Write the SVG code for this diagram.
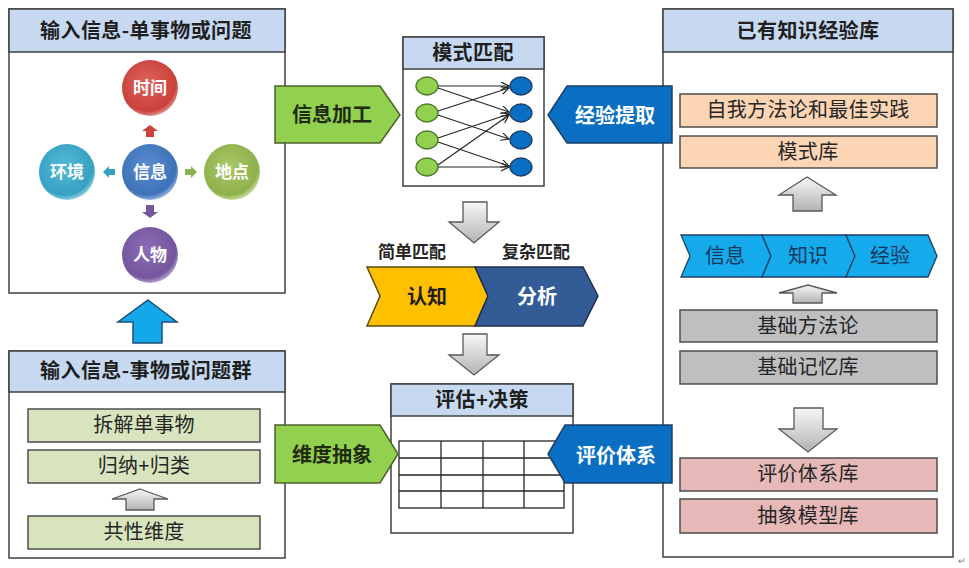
<svg xmlns="http://www.w3.org/2000/svg" width="969" height="568" viewBox="0 0 969 568">
<defs>
<style>
.panel{fill:#ffffff;stroke:#404040;stroke-width:1.5}
.hdr{fill:#c6d9f1;stroke:#404040;stroke-width:1.5}
.t{font-family:"Noto Sans CJK SC","Noto Sans",sans-serif;text-anchor:middle;dominant-baseline:central;transform:translateY(-1.5px)}
.title{font-size:20px;font-weight:bold;fill:#1f1f1f;letter-spacing:0.4px}
.lbl{font-size:20px;fill:#262626;letter-spacing:0.3px}
.bold{font-weight:bold}
.wt{fill:#ffffff}
.peach{fill:#fcd5b5;stroke:#4d4d4d;stroke-width:1.5}
.gray{fill:#bfbfbf;stroke:#4d4d4d;stroke-width:1.5}
.pink{fill:#e6b9b8;stroke:#4d4d4d;stroke-width:1.5}
.olive{fill:#d7e4bd;stroke:#4d4d4d;stroke-width:1.5}
.garrow{fill:url(#gg);stroke:#595959;stroke-width:1.3}
.gpent{fill:#92d050;stroke:#4f6228;stroke-width:1.5}
.bpent{fill:#0a6fc2;stroke:#1f3f66;stroke-width:1.5}
.chev{fill:#15aaeb;stroke:#1f3f66;stroke-width:1.3}
.link{stroke:#262626;stroke-width:1.2;fill:none;marker-end:url(#ah)}
.grid{stroke:#262626;stroke-width:1.3;fill:#ffffff}
.gel{fill:#92d050;stroke:#4f7a28;stroke-width:1.3}
.bel{fill:#0a6fc2;stroke:#1f3f66;stroke-width:1.3}
</style>
<linearGradient id="gg" x1="0" y1="0" x2="0" y2="1">
<stop offset="0" stop-color="#f7f7f7"/>
<stop offset="1" stop-color="#b3b3b3"/>
</linearGradient>
<radialGradient id="cr" cx="0.45" cy="0.4" r="0.6"><stop offset="0" stop-color="#e0625c"/><stop offset="0.85" stop-color="#c9413b"/><stop offset="1" stop-color="#dd8a86"/></radialGradient>
<radialGradient id="cb" cx="0.45" cy="0.4" r="0.6"><stop offset="0" stop-color="#5a8ed0"/><stop offset="0.85" stop-color="#3e72b8"/><stop offset="1" stop-color="#8eb0dc"/></radialGradient>
<radialGradient id="ct" cx="0.45" cy="0.4" r="0.6"><stop offset="0" stop-color="#55b9d6"/><stop offset="0.85" stop-color="#36a1c2"/><stop offset="1" stop-color="#8fcde0"/></radialGradient>
<radialGradient id="cg" cx="0.45" cy="0.4" r="0.6"><stop offset="0" stop-color="#a8c866"/><stop offset="0.85" stop-color="#8fb14c"/><stop offset="1" stop-color="#c3d99a"/></radialGradient>
<radialGradient id="cp" cx="0.45" cy="0.4" r="0.6"><stop offset="0" stop-color="#8d6db5"/><stop offset="0.85" stop-color="#74569e"/><stop offset="1" stop-color="#b3a0cc"/></radialGradient>
<marker id="ah" markerWidth="10" markerHeight="10" refX="8" refY="4" orient="auto" markerUnits="userSpaceOnUse">
<path d="M0,0 L8,4 L0,8" fill="none" stroke="#262626" stroke-width="1.2"/>
</marker>
</defs>
<rect width="969" height="568" fill="#ffffff"/>

<!-- Top-left panel -->
<g id="panel-single">
<rect class="panel" x="9" y="9" width="276" height="284"/>
<rect class="hdr" x="9" y="9" width="276" height="43"/>
<text class="t title" x="146" y="31">输入信息-单事物或问题</text>
<g id="c-time"><circle cx="150" cy="88" r="28" fill="url(#cr)"/><text class="t bold wt" x="150" y="88" font-size="17">时间</text></g>
<g id="c-info"><circle cx="150" cy="172" r="28" fill="url(#cb)"/><text class="t bold wt" x="150" y="172" font-size="17">信息</text></g>
<g id="c-env"><circle cx="67" cy="172" r="28" fill="url(#ct)"/><text class="t bold wt" x="67" y="172" font-size="17">环境</text></g>
<g id="c-place"><circle cx="232" cy="172" r="28" fill="url(#cg)"/><text class="t bold wt" x="232" y="172" font-size="17">地点</text></g>
<g id="c-person"><circle cx="150" cy="255" r="28" fill="url(#cp)"/><text class="t bold wt" x="150" y="255" font-size="17">人物</text></g>
<polygon points="150,125 158,131 154,131 154,137 146,137 146,131 142,131" fill="#c9413b"/>
<polygon points="103,172 109,166 109,169 115,169 115,175 109,175 109,178" fill="#36a1c2"/>
<polygon points="197,172 191,166 191,169 185,169 185,175 191,175 191,178" fill="#8fb14c"/>
<polygon points="150,218 158,212 154,212 154,205 146,205 146,212 142,212" fill="#74569e"/>
</g>

<!-- Bottom-left panel -->
<g id="panel-group">
<rect class="panel" x="9" y="351" width="276" height="207"/>
<rect class="hdr" x="9" y="351" width="276" height="41"/>
<text class="t title" x="146" y="371">输入信息-事物或问题群</text>
<g id="n-split"><rect class="olive" x="28" y="409" width="232" height="33"/><text class="t lbl" x="144" y="425">拆解单事物</text></g>
<g id="n-induce"><rect class="olive" x="28" y="450" width="232" height="33"/><text class="t lbl" x="144" y="466">归纳+归类</text></g>
<polygon class="garrow" points="140,489 168,499 154,499 154,510 126,510 126,499 112,499"/>
<g id="n-common"><rect class="olive" x="28" y="516" width="232" height="33"/><text class="t lbl" x="144" y="532">共性维度</text></g>
</g>

<!-- Blue up arrow between left panels -->
<g id="arrow-up-blue">
<polygon points="148,300 177,322 162,322 162,343 133,343 133,322 118,322" fill="#12a8ea" stroke="#1f4e79" stroke-width="1.5"/>
</g>

<!-- Pattern matching box -->
<g id="n-pattern">
<rect class="panel" x="403" y="37" width="141" height="149"/>
<rect class="hdr" x="403" y="37" width="141" height="32"/>
<text class="t title" x="473" y="53">模式匹配</text>
<ellipse class="gel" cx="427" cy="86" rx="11" ry="9"/>
<ellipse class="gel" cx="427" cy="113" rx="11" ry="9"/>
<ellipse class="gel" cx="427" cy="140" rx="11" ry="9"/>
<ellipse class="gel" cx="427" cy="167" rx="11" ry="9"/>
<ellipse class="bel" cx="521" cy="86" rx="11" ry="9"/>
<ellipse class="bel" cx="521" cy="113" rx="11" ry="9"/>
<ellipse class="bel" cx="521" cy="140" rx="11" ry="9"/>
<ellipse class="bel" cx="521" cy="167" rx="11" ry="9"/>
</g>
<g id="pattern-links">
<line class="link" x1="438" y1="86" x2="509" y2="86"/>
<line class="link" x1="438" y1="88" x2="509" y2="112"/>
<line class="link" x1="438" y1="111" x2="509" y2="88"/>
<line class="link" x1="438" y1="115" x2="509" y2="139"/>
<line class="link" x1="438" y1="138" x2="509" y2="114"/>
<line class="link" x1="438" y1="142" x2="509" y2="166"/>
<line class="link" x1="438" y1="165" x2="509" y2="115"/>
<line class="link" x1="438" y1="167" x2="509" y2="167"/>
</g>

<!-- Right panel -->
<g id="panel-knowledge">
<rect class="panel" x="663" y="9" width="290" height="548"/>
<rect class="hdr" x="663" y="9" width="290" height="43"/>
<text class="t title" x="808" y="31">已有知识经验库</text>
<g id="n-self"><rect class="peach" x="680" y="94" width="257" height="33"/><text class="t lbl" x="808" y="110">自我方法论和最佳实践</text></g>
<g id="n-patternlib"><rect class="peach" x="680" y="136" width="257" height="32"/><text class="t lbl" x="808" y="152">模式库</text></g>
<polygon class="garrow" points="807,177 836,195 822,195 822,211 793,211 793,195 779,195"/>
<g id="n-chev-info"><polygon class="chev" points="681,235 762,235 771,256 762,277 681,277 690,256"/><text class="t" x="725" y="256" font-size="20" fill="#17375e">信息</text></g>
<g id="n-chev-know"><polygon class="chev" points="762,235 846,235 855,256 846,277 762,277 771,256"/><text class="t" x="808" y="256" font-size="20" fill="#17375e">知识</text></g>
<g id="n-chev-exp"><polygon class="chev" points="846,235 928,235 937,256 928,277 846,277 855,256"/><text class="t" x="890" y="256" font-size="20" fill="#17375e">经验</text></g>
<polygon class="garrow" points="808,285 837,293 822,293 822,303 793,303 793,293 779,293"/>
<g id="n-basemethod"><rect class="gray" x="680" y="310" width="257" height="32"/><text class="t lbl" x="808" y="326">基础方法论</text></g>
<g id="n-basemem"><rect class="gray" x="680" y="351" width="257" height="33"/><text class="t lbl" x="808" y="367">基础记忆库</text></g>
<polygon class="garrow" points="794,408 823,408 823,429 837,429 808,452 779,429 794,429"/>
<g id="n-evallib"><rect class="pink" x="680" y="458" width="257" height="33"/><text class="t lbl" x="808" y="474">评价体系库</text></g>
<g id="n-abslib"><rect class="pink" x="680" y="499" width="257" height="34"/><text class="t lbl" x="808" y="516">抽象模型库</text></g>
</g>

<!-- Center arrows and chevron bar -->
<g id="connectors">
<polygon class="garrow" points="463,202 487,202 487,222 499,222 474,243 449,222 463,222"/>
<polygon class="garrow" points="463,334 487,334 487,355 499,355 474,375 449,355 463,355"/>
</g>
<text class="t bold" x="412" y="252" font-size="17" fill="#262626">简单匹配</text>
<text class="t bold" x="536" y="252" font-size="17" fill="#262626">复杂匹配</text>
<g id="n-cognize"><polygon points="367,267 475,267 488,296 475,326 367,326 380,296" fill="#ffc000" stroke="#5a4a10" stroke-width="1.5"/><text class="t bold" x="427" y="297" font-size="20" fill="#1f1f1f">认知</text></g>
<g id="n-analyze"><polygon points="475,267 583,267 598,296 583,326 475,326 488,296" fill="#335c96" stroke="#1f2f4f" stroke-width="1.5"/><text class="t bold wt" x="537" y="297" font-size="20">分析</text></g>

<!-- Evaluation box -->
<g id="n-eval">
<rect class="panel" x="391" y="384" width="182" height="149"/>
<rect class="hdr" x="391" y="384" width="182" height="32"/>
<text class="t title" x="482" y="400">评估+决策</text>
<rect class="grid" x="399" y="441" width="165" height="67"/>
<path d="M441,441V508M483,441V508M524,441V508M399,458H564M399,475H564M399,491H564" stroke="#262626" stroke-width="1.3" fill="none"/>
</g>

<!-- Pentagons -->
<g id="n-infoproc"><polygon class="gpent" points="275,86 380,86 400,115 380,143 275,143"/><text class="t bold" x="332" y="115" font-size="20" fill="#1f2a10">信息加工</text></g>
<g id="n-extract"><polygon class="bpent" points="672,86 567,86 548,115 567,143 672,143"/><text class="t bold wt" x="615" y="116" font-size="20">经验提取</text></g>
<g id="n-dimabs"><polygon class="gpent" points="275,425 380,425 398,454 380,483 275,483"/><text class="t bold" x="332" y="455" font-size="20" fill="#1f2a10">维度抽象</text></g>
<g id="n-evalsys"><polygon class="bpent" points="672,425 565,425 548,454 565,483 672,483"/><text class="t bold wt" x="616" y="456" font-size="20">评价体系</text></g>

<text class="t" x="962" y="562" font-size="9" fill="#808080">↵</text>
</svg>
